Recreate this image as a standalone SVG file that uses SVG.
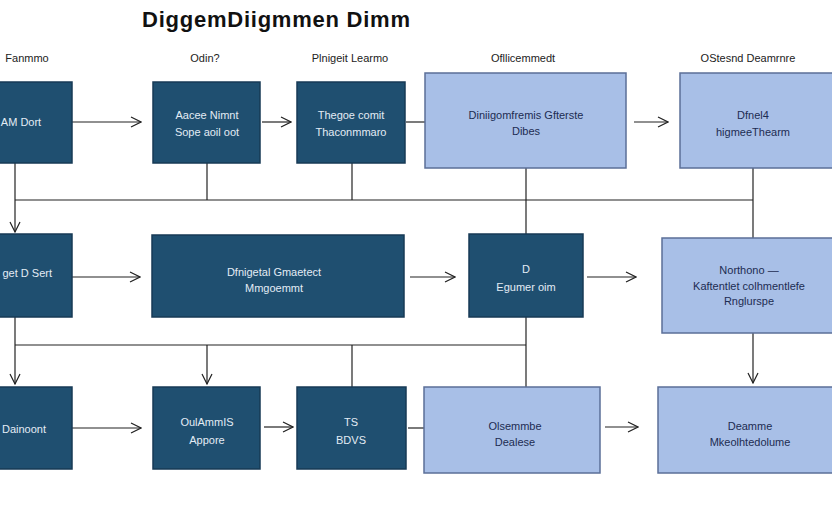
<svg xmlns="http://www.w3.org/2000/svg" width="832" height="512" viewBox="0 0 832 512">
<defs>
<marker id="arr" viewBox="0 0 12 12" refX="11" refY="6" markerWidth="12" markerHeight="12" markerUnits="userSpaceOnUse" orient="auto">
<path d="M1,1 L11,6 L1,11" fill="none" stroke="#222" stroke-width="1.2"/>
</marker>
<style>
.title{font-family:"Liberation Sans",Arial,sans-serif;font-size:22px;font-weight:bold;fill:#111}
.hdr{font-family:"Liberation Sans",Arial,sans-serif;font-size:11px;fill:#222;text-anchor:middle}
.dk rect{fill:#1f4f70;stroke:#173a55;stroke-width:1.5}
.lt rect{fill:#a8bfe7;stroke:#5b6f98;stroke-width:1.5}
.dk text{font-family:"Liberation Sans",Arial,sans-serif;font-size:11px;fill:#e3ecf5;text-anchor:middle}
.lt text{font-family:"Liberation Sans",Arial,sans-serif;font-size:11px;fill:#1d2c52;text-anchor:middle}
.c line{stroke:#222;stroke-width:1.2;fill:none}
</style>
</defs>
<rect width="832" height="512" fill="#fff"/>
<text class="title" x="142" y="27" textLength="268" lengthAdjust="spacing">DiggemDiigmmen Dimm</text>
<g id="headers">
<text class="hdr" x="27" y="62">Fanmmo</text>
<text class="hdr" x="205" y="62">Odin?</text>
<text class="hdr" x="350" y="62">Plnigeit Learmo</text>
<text class="hdr" x="523" y="62">Ofllicemmedt</text>
<text class="hdr" x="748" y="62">OStesnd Deamrnre</text>
</g>
<g id="connectors" class="c">
<line x1="72" y1="122" x2="141" y2="122" marker-end="url(#arr)"/>
<line x1="262" y1="122" x2="291" y2="122" marker-end="url(#arr)"/>
<line x1="406" y1="122" x2="425" y2="122"/>
<line x1="634" y1="122" x2="668" y2="122" marker-end="url(#arr)"/>
<line x1="15" y1="163" x2="15" y2="232" marker-end="url(#arr)"/>
<line x1="207" y1="163" x2="207" y2="200"/>
<line x1="352" y1="163" x2="352" y2="200"/>
<line x1="526" y1="168" x2="526" y2="234"/>
<line x1="753" y1="168" x2="753" y2="238"/>
<line x1="15" y1="200" x2="753" y2="200"/>
<line x1="72" y1="277" x2="140" y2="277" marker-end="url(#arr)"/>
<line x1="410" y1="277" x2="455" y2="277" marker-end="url(#arr)"/>
<line x1="587" y1="277" x2="636" y2="277" marker-end="url(#arr)"/>
<line x1="15" y1="317" x2="15" y2="384" marker-end="url(#arr)"/>
<line x1="15" y1="345" x2="526" y2="345"/>
<line x1="207" y1="345" x2="207" y2="384" marker-end="url(#arr)"/>
<line x1="352" y1="345" x2="352" y2="387"/>
<line x1="526" y1="317" x2="526" y2="387"/>
<line x1="753" y1="333" x2="753" y2="383" marker-end="url(#arr)"/>
<line x1="72" y1="428" x2="141" y2="428" marker-end="url(#arr)"/>
<line x1="264" y1="427" x2="293" y2="427" marker-end="url(#arr)"/>
<line x1="408" y1="428" x2="424" y2="428"/>
<line x1="605" y1="427" x2="638" y2="427" marker-end="url(#arr)"/>
</g>
<g id="n1" class="dk"><rect x="-2" y="82" width="74" height="81"/><text x="21" y="126">AM Dort</text></g>
<g id="n2" class="dk"><rect x="153" y="82" width="107" height="81"/><text x="207" y="119">Aacee Nimnt</text><text x="207" y="136">Sope aoil oot</text></g>
<g id="n3" class="dk"><rect x="297" y="82" width="108" height="81"/><text x="351" y="119">Thegoe comit</text><text x="351" y="136">Thaconmmaro</text></g>
<g id="n4" class="lt"><rect x="425" y="73" width="201" height="95"/><text x="526" y="119">Diniigomfremis Gfterste</text><text x="526" y="135">Dibes</text></g>
<g id="n5" class="lt"><rect x="680" y="73" width="160" height="95"/><text x="753" y="119">Dfnel4</text><text x="753" y="136">higmeeThearm</text></g>
<g id="n6" class="dk"><rect x="-2" y="234" width="74" height="83"/><text x="52" y="277" style="text-anchor:end">get D Sert</text></g>
<g id="n7" class="dk"><rect x="152" y="235" width="252" height="82"/><text x="274" y="276">Dfnigetal Gmaetect</text><text x="274" y="292">Mmgoemmt</text></g>
<g id="n8" class="dk"><rect x="469" y="234" width="114" height="83"/><text x="526" y="273">D</text><text x="526" y="291">Egumer oim</text></g>
<g id="n9" class="lt"><rect x="662" y="238" width="175" height="95"/><text x="749" y="274">Northono —</text><text x="749" y="290">Kaftentlet colhmentlefe</text><text x="749" y="305">Rnglurspe</text></g>
<g id="n11" class="dk"><rect x="-2" y="387" width="74" height="82"/><text x="2" y="433" style="text-anchor:start">Dainoont</text></g>
<g id="n12" class="dk"><rect x="153" y="387" width="107" height="82"/><text x="207" y="426">OulAmmIS</text><text x="207" y="444">Appore</text></g>
<g id="n13" class="dk"><rect x="297" y="387" width="109" height="82"/><text x="351" y="426">TS</text><text x="351" y="444">BDVS</text></g>
<g id="n14" class="lt"><rect x="424" y="387" width="176" height="86"/><text x="515" y="430">Olsemmbe</text><text x="515" y="446">Dealese</text></g>
<g id="n15" class="lt"><rect x="658" y="387" width="180" height="86"/><text x="750" y="430">Deamme</text><text x="750" y="446">Mkeolhtedolume</text></g>
</svg>
